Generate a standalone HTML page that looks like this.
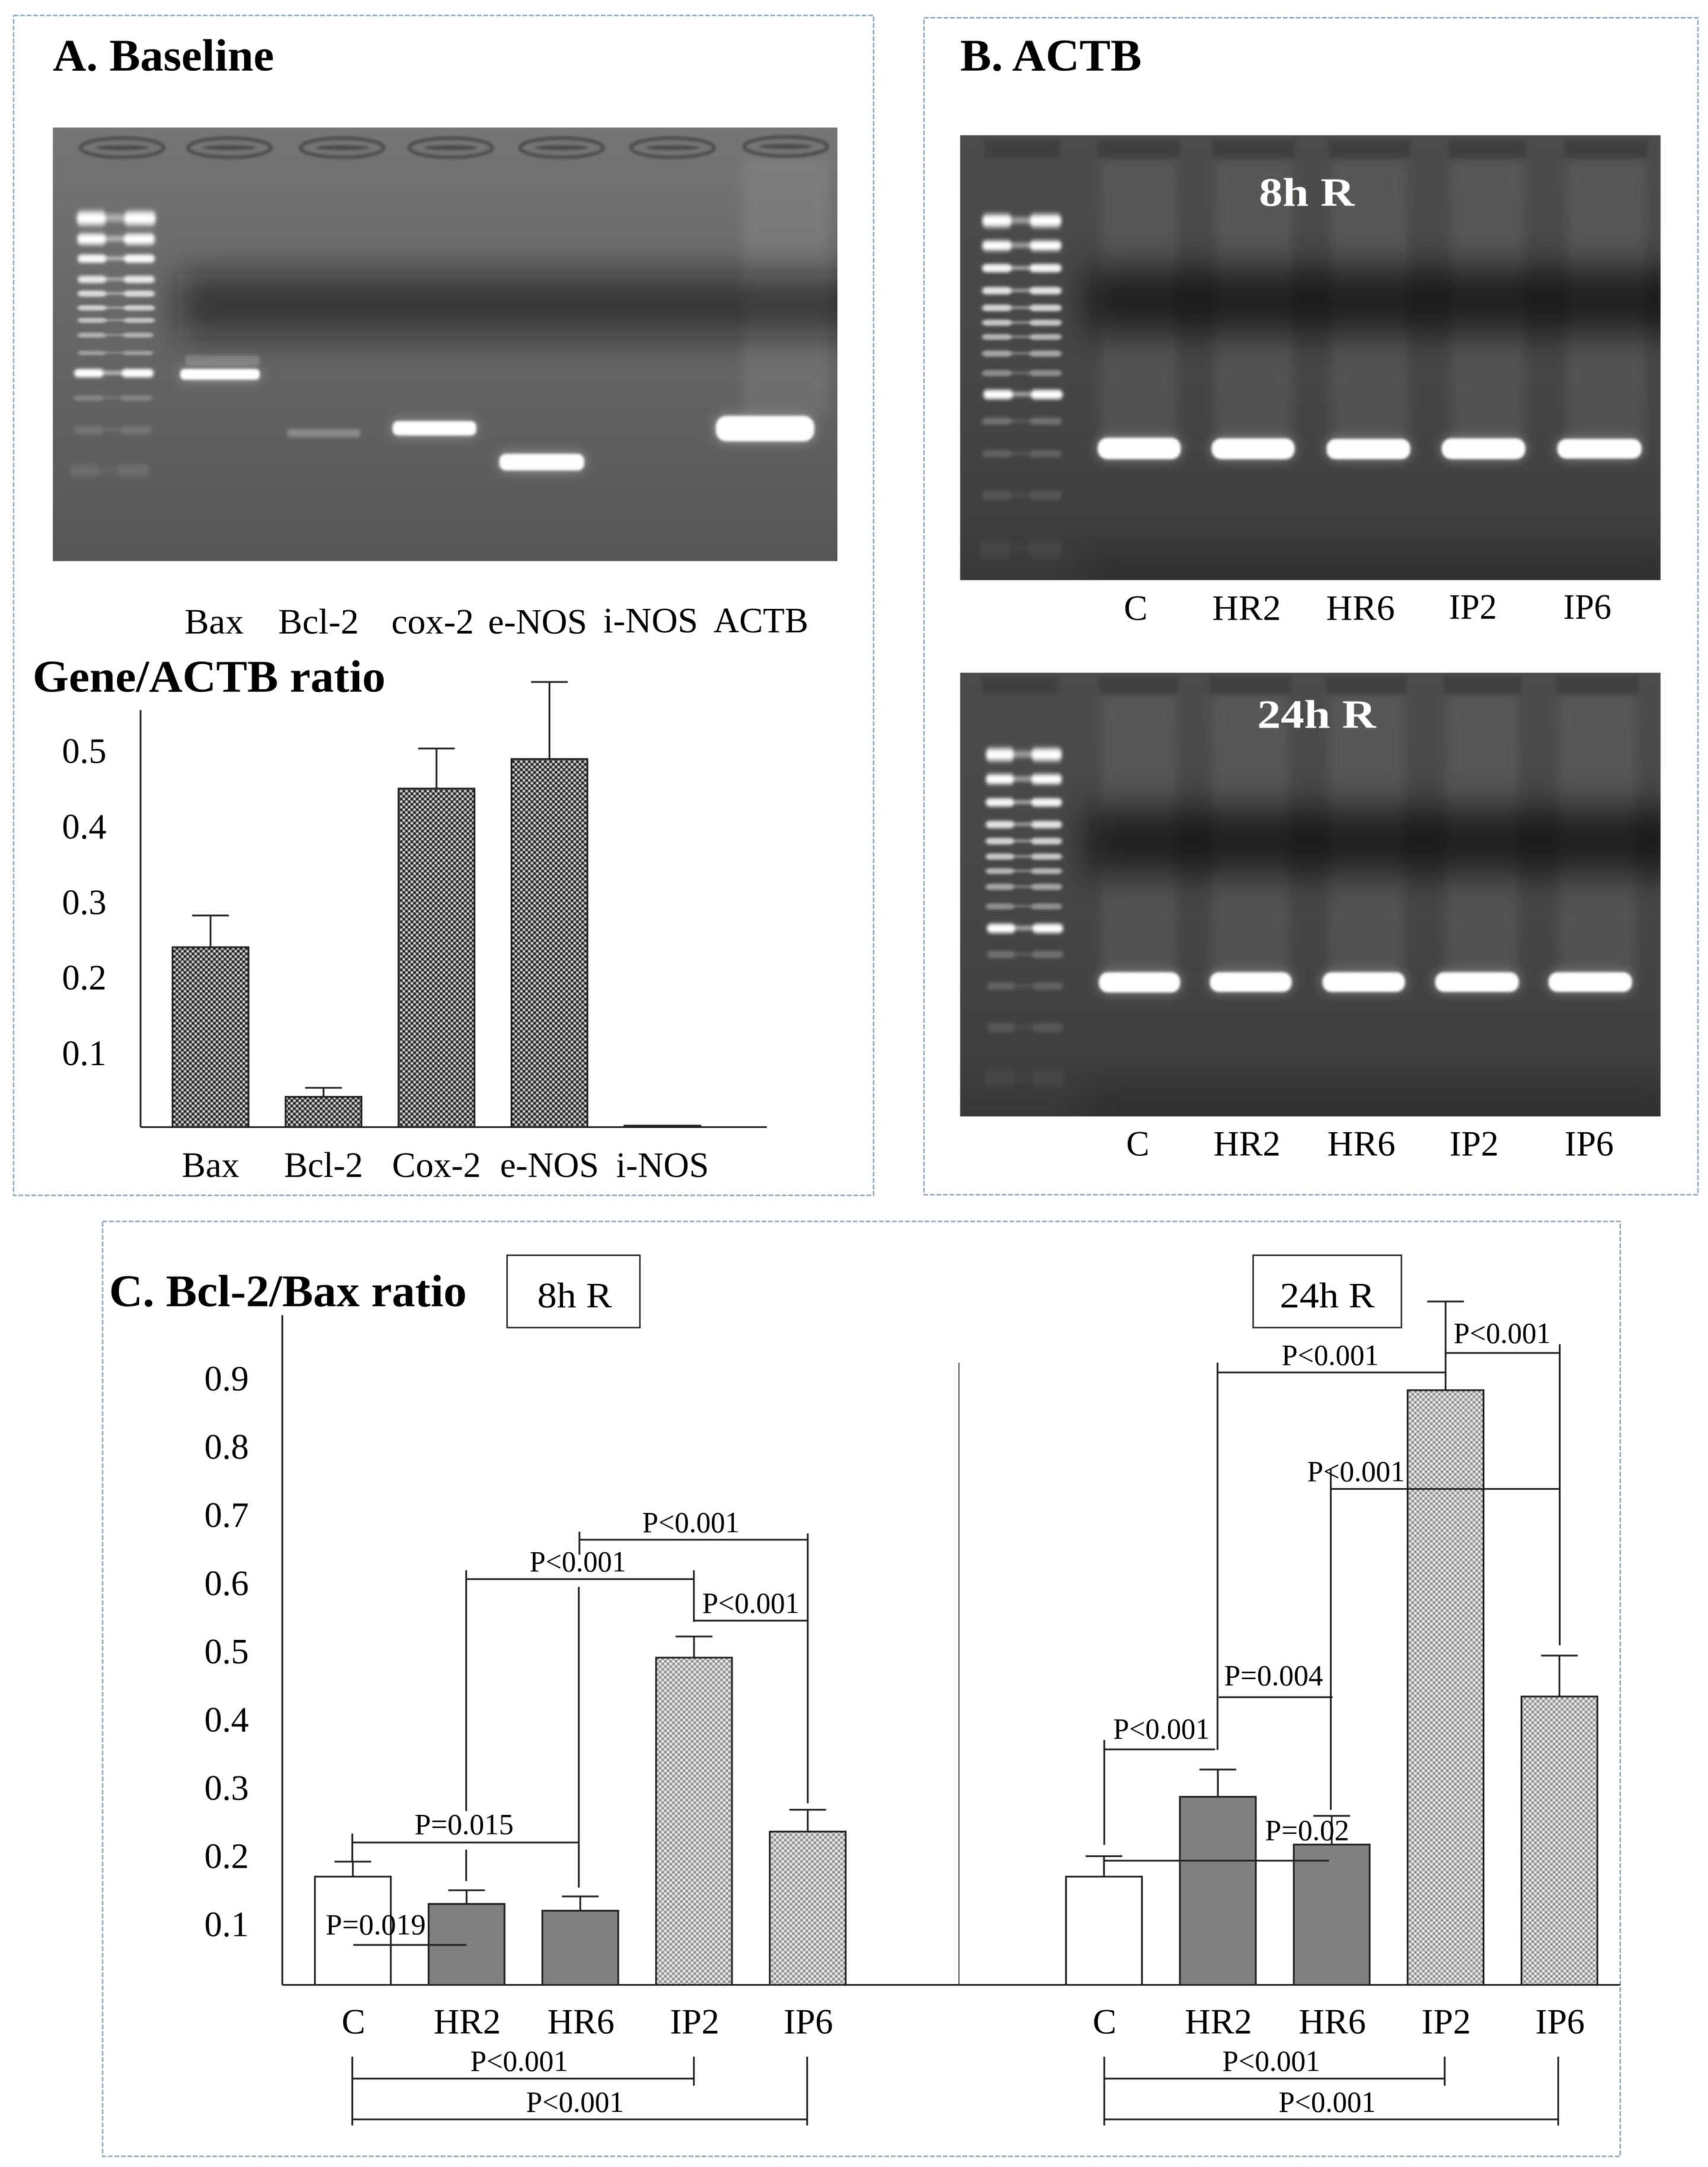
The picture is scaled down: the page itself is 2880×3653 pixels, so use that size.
<!DOCTYPE html>
<html lang="en">
<head>
<meta charset="utf-8">
<title>Bcl-2/Bax ratio gels and bar charts</title>
<style>
html,body{margin:0;padding:0;background:#fff;}
svg{display:block;filter:blur(.6px);}
text{font-family:"Liberation Serif","Times New Roman",serif;fill:#000;}
.b{font-weight:700;font-size:76px;}
.l{font-size:60px;}
.p{font-size:50px;}
.w{font-weight:700;font-size:68px;fill:#fff;}
.br{fill:none;stroke:#222;stroke-width:3;}
</style>
</head>
<body>
<svg id="figure" xmlns="http://www.w3.org/2000/svg" width="2880" height="3653" viewBox="0 0 2880 3653">
<defs>
  <filter id="f2" x="-30%" y="-200%" width="160%" height="500%"><feGaussianBlur stdDeviation="2"/></filter>
  <filter id="f3" x="-30%" y="-300%" width="160%" height="700%"><feGaussianBlur stdDeviation="3"/></filter>
  <filter id="f8" x="-30%" y="-50%" width="160%" height="200%"><feGaussianBlur stdDeviation="9"/></filter>
  <filter id="f30" x="-20%" y="-300%" width="140%" height="700%"><feGaussianBlur stdDeviation="29"/></filter>
  <filter id="band" x="-30%" y="-200%" width="160%" height="500%">
    <feGaussianBlur in="SourceGraphic" stdDeviation="10" result="g"/>
    <feComponentTransfer in="g" result="g2"><feFuncA type="linear" slope=".4"/></feComponentTransfer>
    <feGaussianBlur in="SourceGraphic" stdDeviation="2.2" result="c"/>
    <feMerge><feMergeNode in="g2"/><feMergeNode in="c"/></feMerge>
  </filter>
  <g id="lb" filter="url(#f3)">
    <rect x="0" y="-7" width="50" height="14" rx="7" fill="#fff"/>
    <rect x="80" y="-7" width="54" height="14" rx="7" fill="#fff"/>
    <rect x="35" y="-3.5" width="64" height="6" fill="#fff" opacity=".6"/>
  </g>
  <linearGradient id="bgA" x1="0" y1="0" x2="0" y2="1">
    <stop offset="0" stop-color="#767676"/><stop offset=".5" stop-color="#666"/><stop offset="1" stop-color="#575757"/>
  </linearGradient>
  <linearGradient id="bgB" x1="0" y1="0" x2="0" y2="1">
    <stop offset="0" stop-color="#4c4c4a"/><stop offset=".5" stop-color="#474745"/><stop offset=".85" stop-color="#404040"/><stop offset="1" stop-color="#383838"/>
  </linearGradient>
  <pattern id="hatchA" width="9" height="9" patternUnits="userSpaceOnUse">
    <rect width="9" height="9" fill="#6a6a6a"/>
    <rect x="0" y="0" width="3" height="3" fill="#eee"/><rect x="4.5" y="4.5" width="3" height="3" fill="#eee"/>
    <rect x="4.5" y="0" width="3" height="3" fill="#111"/><rect x="0" y="4.5" width="3" height="3" fill="#111"/>
  </pattern>
  <pattern id="hatchC" width="9" height="9" patternUnits="userSpaceOnUse">
    <rect width="9" height="9" fill="#c0c0c0"/>
    <rect x="0" y="0" width="3" height="3" fill="#f4f4f4"/><rect x="4.5" y="4.5" width="3" height="3" fill="#f4f4f4"/>
    <rect x="4.5" y="0" width="3" height="3" fill="#7d7d7d"/><rect x="0" y="4.5" width="3" height="3" fill="#7d7d7d"/>
  </pattern>
  <clipPath id="cA"><rect x="89" y="215" width="1323" height="731"/></clipPath>
  <clipPath id="cB"><rect x="1619" y="228" width="1181" height="750"/></clipPath>
  <clipPath id="cD"><rect x="1619" y="1134" width="1181" height="748"/></clipPath>
</defs>

<rect width="2880" height="3653" fill="#fff"/>

<!-- panel frames -->
<rect x="23" y="26" width="1450" height="1989" fill="none" stroke="#8ea2b8" stroke-width="2.5" stroke-dasharray="8 3"/>
<rect x="1558" y="30" width="1305" height="1984" fill="none" stroke="#8ea2b8" stroke-width="2.5" stroke-dasharray="8 3"/>
<rect x="173" y="2059" width="2559" height="1576" fill="none" stroke="#8ea2b8" stroke-width="2.5" stroke-dasharray="8 3"/>

<!-- Panel A gel -->
<text class="b" x="89" y="119" textLength="373" lengthAdjust="spacingAndGlyphs">A. Baseline</text>
<g clip-path="url(#cA)">
  <rect x="89" y="215" width="1323" height="731" fill="url(#bgA)"/>
  <rect x="1253" y="268" width="144" height="430" fill="#fff" opacity=".08" filter="url(#f8)"/>
  <rect x="300" y="462" width="1200" height="104" fill="#111" opacity=".55" filter="url(#f30)"/>
  <g filter="url(#f2)" fill="#747474" stroke="#4c4c4c" stroke-width="6">
    <ellipse cx="206" cy="249" rx="70" ry="16"/>
    <ellipse cx="387" cy="249" rx="70" ry="16"/>
    <ellipse cx="577" cy="249" rx="70" ry="16"/>
    <ellipse cx="760" cy="249" rx="70" ry="16"/>
    <ellipse cx="947" cy="249" rx="70" ry="16"/>
    <ellipse cx="1134" cy="249" rx="70" ry="16"/>
    <ellipse cx="1325" cy="247" rx="70" ry="16"/>
  </g>
  <g filter="url(#f2)" fill="#4a4a4a">
    <ellipse cx="206" cy="249" rx="45" ry="4"/>
    <ellipse cx="387" cy="249" rx="45" ry="4"/>
    <ellipse cx="577" cy="249" rx="45" ry="4"/>
    <ellipse cx="760" cy="249" rx="45" ry="4"/>
    <ellipse cx="947" cy="249" rx="45" ry="4"/>
    <ellipse cx="1134" cy="249" rx="45" ry="4"/>
    <ellipse cx="1325" cy="247" rx="45" ry="4"/>
  </g>
  <g>
    <use href="#lb" transform="translate(129,368) scale(1,1.6)"/>
    <use href="#lb" transform="translate(130,403) scale(.98,1.3)"/>
    <use href="#lb" transform="translate(131,436) scale(.97,1)" opacity=".95"/>
    <use href="#lb" transform="translate(131,471) scale(.97,.85)" opacity=".85"/>
    <use href="#lb" transform="translate(131,495) scale(.97,.75)" opacity=".75"/>
    <use href="#lb" transform="translate(131,519) scale(.97,.65)" opacity=".68"/>
    <use href="#lb" transform="translate(131,540) scale(.97,.6)" opacity=".58"/>
    <use href="#lb" transform="translate(131,565) scale(.95,.6)" opacity=".48"/>
    <use href="#lb" transform="translate(131,595) scale(.95,.55)" opacity=".36"/>
    <use href="#lb" transform="translate(125,629) scale(1,1)"/>
    <use href="#lb" transform="translate(125,671) scale(.98,.7)" opacity=".22"/>
    <use href="#lb" transform="translate(125,725) scale(.98,1)" opacity=".13"/>
    <use href="#lb" transform="translate(118,793) scale(1,1.4)" opacity=".1"/>
  </g>
  <rect x="312" y="598" width="126" height="18" rx="6" fill="#fff" opacity=".18" filter="url(#f2)"/>
  <rect x="304" y="622" width="134" height="18" rx="7" fill="#fff" filter="url(#band)"/>
  <rect x="484" y="723" width="124" height="14" rx="6" fill="#fff" opacity=".26" filter="url(#f3)"/>
  <rect x="662" y="710" width="141" height="24" rx="9" fill="#fff" filter="url(#band)"/>
  <rect x="842" y="765" width="143" height="28" rx="11" fill="#fff" filter="url(#band)"/>
  <rect x="1207" y="701" width="166" height="43" rx="18" fill="#fff" filter="url(#band)"/>
</g>
<text class="l" x="311" y="1068" textLength="100" lengthAdjust="spacingAndGlyphs">Bax</text>
<text class="l" x="469" y="1068" textLength="136" lengthAdjust="spacingAndGlyphs">Bcl-2</text>
<text class="l" x="660" y="1068" textLength="139" lengthAdjust="spacingAndGlyphs">cox-2</text>
<text class="l" x="823" y="1068" textLength="167" lengthAdjust="spacingAndGlyphs">e-NOS</text>
<text class="l" x="1017" y="1066" textLength="160" lengthAdjust="spacingAndGlyphs">i-NOS</text>
<text class="l" x="1203" y="1066" textLength="160" lengthAdjust="spacingAndGlyphs">ACTB</text>

<text class="b" x="55" y="1166" textLength="595" lengthAdjust="spacingAndGlyphs">Gene/ACTB ratio</text>
<g id="chartA"></g>

<!-- Panel B gels -->
<text class="b" x="1619" y="119" textLength="306" lengthAdjust="spacingAndGlyphs">B. ACTB</text>
<g clip-path="url(#cB)">
  <rect x="1619" y="228" width="1181" height="750" fill="url(#bgB)"/>
  <g fill="#8a8a8a" opacity=".2" filter="url(#f8)">
    <rect x="1856" y="272" width="128" height="470"/>
    <rect x="2049" y="272" width="130" height="470"/>
    <rect x="2245" y="272" width="128" height="470"/>
    <rect x="2446" y="272" width="124" height="470"/>
    <rect x="2642" y="272" width="132" height="470"/>
  </g>
  <rect x="1830" y="452" width="1050" height="110" fill="#000" opacity=".62" filter="url(#f30)"/>
  <rect x="1830" y="925" width="1000" height="80" fill="#000" opacity=".15" filter="url(#f30)"/>
  <g fill="#2e2e2e" opacity=".38" filter="url(#f3)">
    <rect x="1660" y="236" width="128" height="30"/>
    <rect x="1850" y="236" width="140" height="30"/>
    <rect x="2044" y="236" width="140" height="30"/>
    <rect x="2240" y="236" width="138" height="30"/>
    <rect x="2442" y="236" width="132" height="30"/>
    <rect x="2638" y="236" width="140" height="30"/>
  </g>
  <g>
    <use href="#lb" transform="translate(1656,372) scale(1,1.5)"/>
    <use href="#lb" transform="translate(1656,414) scale(1,1.2)"/>
    <use href="#lb" transform="translate(1656,452) scale(1,1)" opacity=".95"/>
    <use href="#lb" transform="translate(1656,490) scale(1,.9)" opacity=".85"/>
    <use href="#lb" transform="translate(1656,519) scale(1,.8)" opacity=".75"/>
    <use href="#lb" transform="translate(1656,544) scale(1,.75)" opacity=".68"/>
    <use href="#lb" transform="translate(1656,568) scale(1,.7)" opacity=".6"/>
    <use href="#lb" transform="translate(1656,596) scale(1,.75)" opacity=".5"/>
    <use href="#lb" transform="translate(1656,629) scale(1,.75)" opacity=".38"/>
    <use href="#lb" transform="translate(1658,665) scale(1,1.1)"/>
    <use href="#lb" transform="translate(1656,710) scale(1,.85)" opacity=".24"/>
    <use href="#lb" transform="translate(1656,765) scale(1,.9)" opacity=".16"/>
    <use href="#lb" transform="translate(1656,835) scale(1,1.1)" opacity=".11"/>
    <use href="#lb" transform="translate(1650,926) scale(1.05,2)" opacity=".05"/>
  </g>
  <rect x="1851" y="738" width="140" height="36" rx="16" fill="#fff" filter="url(#band)"/>
  <rect x="2043" y="739" width="140" height="35" rx="16" fill="#fff" filter="url(#band)"/>
  <rect x="2237" y="740" width="141" height="34" rx="15" fill="#fff" filter="url(#band)"/>
  <rect x="2431" y="739" width="141" height="35" rx="16" fill="#fff" filter="url(#band)"/>
  <rect x="2626" y="740" width="142" height="33" rx="15" fill="#fff" filter="url(#band)"/>
</g>
<text class="w" x="2123" y="347" textLength="161" lengthAdjust="spacingAndGlyphs">8h R</text>
<text class="l" x="1895" y="1045" textLength="40" lengthAdjust="spacingAndGlyphs">C</text>
<text class="l" x="2044" y="1045" textLength="116" lengthAdjust="spacingAndGlyphs">HR2</text>
<text class="l" x="2236" y="1045" textLength="116" lengthAdjust="spacingAndGlyphs">HR6</text>
<text class="l" x="2443" y="1043" textLength="81" lengthAdjust="spacingAndGlyphs">IP2</text>
<text class="l" x="2636" y="1043" textLength="81" lengthAdjust="spacingAndGlyphs">IP6</text>

<g clip-path="url(#cD)">
  <rect x="1619" y="1134" width="1181" height="748" fill="url(#bgB)"/>
  <g fill="#8a8a8a" opacity=".2" filter="url(#f8)">
    <rect x="1857" y="1172" width="126" height="470"/>
    <rect x="2043" y="1172" width="130" height="470"/>
    <rect x="2241" y="1172" width="126" height="470"/>
    <rect x="2438" y="1172" width="122" height="470"/>
    <rect x="2628" y="1172" width="130" height="470"/>
  </g>
  <rect x="1830" y="1362" width="1050" height="112" fill="#000" opacity=".62" filter="url(#f30)"/>
  <rect x="1830" y="1828" width="1000" height="80" fill="#000" opacity=".15" filter="url(#f30)"/>
  <g fill="#2e2e2e" opacity=".38" filter="url(#f3)">
    <rect x="1655" y="1140" width="130" height="30"/>
    <rect x="1853" y="1140" width="134" height="30"/>
    <rect x="2039" y="1140" width="138" height="30"/>
    <rect x="2237" y="1140" width="134" height="30"/>
    <rect x="2434" y="1140" width="131" height="30"/>
    <rect x="2624" y="1140" width="138" height="30"/>
  </g>
  <g>
    <use href="#lb" transform="translate(1662,1272) scale(.96,1.5)"/>
    <use href="#lb" transform="translate(1662,1313.5) scale(.96,1.2)"/>
    <use href="#lb" transform="translate(1662,1352.6) scale(.96,1)" opacity=".95"/>
    <use href="#lb" transform="translate(1662,1390) scale(.96,.9)" opacity=".85"/>
    <use href="#lb" transform="translate(1662,1418) scale(.96,.8)" opacity=".75"/>
    <use href="#lb" transform="translate(1662,1444) scale(.96,.75)" opacity=".68"/>
    <use href="#lb" transform="translate(1662,1468.5) scale(.96,.7)" opacity=".6"/>
    <use href="#lb" transform="translate(1662,1495) scale(.96,.75)" opacity=".5"/>
    <use href="#lb" transform="translate(1662,1528) scale(.96,.75)" opacity=".38"/>
    <use href="#lb" transform="translate(1664,1565) scale(.96,1.1)"/>
    <use href="#lb" transform="translate(1664,1609) scale(.96,.85)" opacity=".24"/>
    <use href="#lb" transform="translate(1664,1662.5) scale(.96,.9)" opacity=".16"/>
    <use href="#lb" transform="translate(1664,1732.5) scale(.96,1.1)" opacity=".11"/>
    <use href="#lb" transform="translate(1660,1817) scale(1,2)" opacity=".05"/>
  </g>
  <rect x="1853" y="1639" width="137" height="34" rx="15" fill="#fff" filter="url(#band)"/>
  <rect x="2040" y="1639" width="138" height="33" rx="15" fill="#fff" filter="url(#band)"/>
  <rect x="2230" y="1639" width="139" height="33" rx="15" fill="#fff" filter="url(#band)"/>
  <rect x="2420" y="1639" width="141" height="33" rx="15" fill="#fff" filter="url(#band)"/>
  <rect x="2611" y="1639" width="141" height="33" rx="15" fill="#fff" filter="url(#band)"/>
</g>
<text class="w" x="2120" y="1227" textLength="200" lengthAdjust="spacingAndGlyphs">24h R</text>
<text class="l" x="1899" y="1948" textLength="39" lengthAdjust="spacingAndGlyphs">C</text>
<text class="l" x="2046" y="1948" textLength="113" lengthAdjust="spacingAndGlyphs">HR2</text>
<text class="l" x="2238" y="1948" textLength="115" lengthAdjust="spacingAndGlyphs">HR6</text>
<text class="l" x="2444" y="1948" textLength="83" lengthAdjust="spacingAndGlyphs">IP2</text>
<text class="l" x="2638" y="1948" textLength="83" lengthAdjust="spacingAndGlyphs">IP6</text>

<!-- Panel C -->
<text class="b" x="184" y="2202" textLength="603" lengthAdjust="spacingAndGlyphs">C. Bcl-2/Bax ratio</text>
<rect x="855" y="2116" width="224" height="122" fill="#fff" stroke="#222" stroke-width="2.5"/>
<text class="l" x="906" y="2204" textLength="126" lengthAdjust="spacingAndGlyphs">8h R</text>
<rect x="2113" y="2116" width="250" height="122" fill="#fff" stroke="#222" stroke-width="2.5"/>
<text class="l" x="2158" y="2204" textLength="160" lengthAdjust="spacingAndGlyphs">24h R</text>
<line x1="1617" y1="2297" x2="1617" y2="3346" stroke="#555" stroke-width="2"/>

<g id="chartC"></g>

<g>
  <path class="br" d="M977 2582V2621M977 2595.5H1362M1362 2585V3040"/>
  <path class="br" d="M786 2647V3053M786 3118V3171M786 2662H1170M1170 2647V2734"/>
  <path class="br" d="M976 2675V3182"/>
  <path class="br" d="M1170 2732H1362"/>
  <path class="br" d="M594 3091V3139M594 3106H976"/>
  <path class="br" d="M595.6 3278.6H786.6"/>
  <path class="br" d="M594 3467V3583M594 3504H1170M1170 3467V3516"/>
  <path class="br" d="M594 3572.8H1361M1361 3467V3583"/>
  <text class="p" x="1083" y="2583" textLength="164" lengthAdjust="spacingAndGlyphs">P&lt;0.001</text>
  <text class="p" x="893" y="2649" textLength="163" lengthAdjust="spacingAndGlyphs">P&lt;0.001</text>
  <text class="p" x="1184" y="2719" textLength="164" lengthAdjust="spacingAndGlyphs">P&lt;0.001</text>
  <text class="p" x="699" y="3092" textLength="167" lengthAdjust="spacingAndGlyphs">P=0.015</text>
  <text class="p" x="549" y="3261" textLength="169" lengthAdjust="spacingAndGlyphs">P=0.019</text>
  <text class="p" x="793" y="3491" textLength="165" lengthAdjust="spacingAndGlyphs">P&lt;0.001</text>
  <text class="p" x="887" y="3560" textLength="165" lengthAdjust="spacingAndGlyphs">P&lt;0.001</text>
</g>

<g>
  <path class="br" d="M2436 2280.7H2630M2630 2266V2773.5"/>
  <path class="br" d="M2053 2297V2950M2053 2313.6H2436"/>
  <path class="br" d="M2244 2477V3051M2244 2510H2630"/>
  <path class="br" d="M2055 2861H2247"/>
  <path class="br" d="M1862 2933V3110M1862 2949H2049"/>
  <path class="br" d="M1862 3136.6H2241"/>
  <path class="br" d="M1862 3467V3583M1862 3504H2436M2436 3467V3516"/>
  <path class="br" d="M1862 3572.8H2627.5M2627.5 3467V3583"/>
  <text class="p" x="2451" y="2264" textLength="164" lengthAdjust="spacingAndGlyphs">P&lt;0.001</text>
  <text class="p" x="2161" y="2301" textLength="164" lengthAdjust="spacingAndGlyphs">P&lt;0.001</text>
  <text class="p" x="2204" y="2497" textLength="165" lengthAdjust="spacingAndGlyphs">P&lt;0.001</text>
  <text class="p" x="2064" y="2841" textLength="167" lengthAdjust="spacingAndGlyphs">P=0.004</text>
  <text class="p" x="1877" y="2931" textLength="163" lengthAdjust="spacingAndGlyphs">P&lt;0.001</text>
  <text class="p" x="2133" y="3102" textLength="142" lengthAdjust="spacingAndGlyphs">P=0.02</text>
  <text class="p" x="2061" y="3491" textLength="165" lengthAdjust="spacingAndGlyphs">P&lt;0.001</text>
  <text class="p" x="2156" y="3560" textLength="164" lengthAdjust="spacingAndGlyphs">P&lt;0.001</text>
</g>
</svg>

<script>
var baselineCategories = ["Bax", "Bcl-2", "Cox-2", "e-NOS", "i-NOS"];
var baselineValues = [0.238, 0.040, 0.448, 0.487, 0.002];
var baselineErrors = [0.042, 0.012, 0.053, 0.102, 0];
var baselineTicks = [0.1, 0.2, 0.3, 0.4, 0.5];

var ratioCategories = ["C", "HR2", "HR6", "IP2", "IP6"];
var ratio8h = [0.17, 0.13, 0.12, 0.491, 0.236];
var error8h = [0.022, 0.02, 0.021, 0.031, 0.032];
var ratio24h = [0.17, 0.287, 0.217, 0.883, 0.434];
var error24h = [0.03, 0.04, 0.042, 0.13, 0.06];
var ratioTicks = [0.1, 0.2, 0.3, 0.4, 0.5, 0.6, 0.7, 0.8, 0.9];
var groupFills = ["#ffffff", "#808080", "#808080", "url(#hatchC)", "url(#hatchC)"];

var NS = "http://www.w3.org/2000/svg";
function mk(parent, tag, attrs, txt) {
  var el = document.createElementNS(NS, tag);
  for (var k in attrs) { el.setAttribute(k, attrs[k]); }
  if (txt !== undefined) { el.textContent = txt; }
  parent.appendChild(el);
  return el;
}

/* Panel A axes */
function xA(i) { return 355 + 190.5 * i; }
function yA(v) { return 1900 - 1274 * v; }
var gA = document.getElementById("chartA");
var el;

el = mk(gA, "line", {x1: 237, y1: 1197, x2: 237, y2: 1900, stroke: "#222", "stroke-width": 3});


baselineTicks.forEach(function (t) {
  var tx = mk(gA, "text", {"class": "l", x: 142, y: yA(t) + 23, "text-anchor": "middle"}, t.toFixed(1));
  
  
});
baselineCategories.forEach(function (c, i) {
  var eb = mk(gA, "path", {d: "M" + xA(i) + " " + yA(baselineValues[i]) + "V" + yA(baselineValues[i] + baselineErrors[i]) + "M" + (xA(i) - 31) + " " + yA(baselineValues[i] + baselineErrors[i]) + "h62", fill: "none", stroke: "#222", "stroke-width": 3});
  
  
  var bar = mk(gA, "rect", {x: xA(i) - 64, y: yA(baselineValues[i]), width: 128, height: 1900 - yA(baselineValues[i]), fill: "url(#hatchA)", stroke: "#222", "stroke-width": 3});
  
  
  var lb = mk(gA, "text", {"class": "l", x: xA(i), y: 1984, "text-anchor": "middle"}, c);
  
  
});
el = mk(gA, "line", {x1: 237, y1: 1900, x2: 1293, y2: 1900, stroke: "#222", "stroke-width": 3});



/* Panel C axes */
function x8(i) { return 595 + 191.75 * i; }
function x24(i) { return 1861.5 + 192 * i; }
function yC(v) { return 3359 - 1150 * v; }
var BASE = 3346;
var gC = document.getElementById("chartC");

el = mk(gC, "line", {x1: 476, y1: 2217, x2: 476, y2: BASE, stroke: "#222", "stroke-width": 3});


ratioTicks.forEach(function (t) {
  var tx = mk(gC, "text", {"class": "l", x: 382, y: yC(t) + 20, "text-anchor": "middle"}, t.toFixed(1));
  
  
});

function drawGroup(vals, errs, xf) {
  ratioCategories.forEach(function (c, i) {
    var top = yC(vals[i]), cap = yC(vals[i] + errs[i]);
    var eb = mk(gC, "path", {d: "M" + xf(i) + " " + top + "V" + cap + "M" + (xf(i) - 31) + " " + cap + "h62", fill: "none", stroke: "#222", "stroke-width": 3});
    
    
    var bar = mk(gC, "rect", {x: xf(i) - 64, y: top, width: 128, height: BASE - top, fill: groupFills[i], stroke: "#222", "stroke-width": 3});
    
    
    var lb = mk(gC, "text", {"class": "l", x: xf(i) + 1, y: 3428, "text-anchor": "middle"}, c);
    
    
  });
}
drawGroup(ratio8h, error8h, x8);
drawGroup(ratio24h, error24h, x24);

el = mk(gC, "line", {x1: 476, y1: BASE, x2: 2732, y2: BASE, stroke: "#222", "stroke-width": 3});


</script>
</body>
</html>
